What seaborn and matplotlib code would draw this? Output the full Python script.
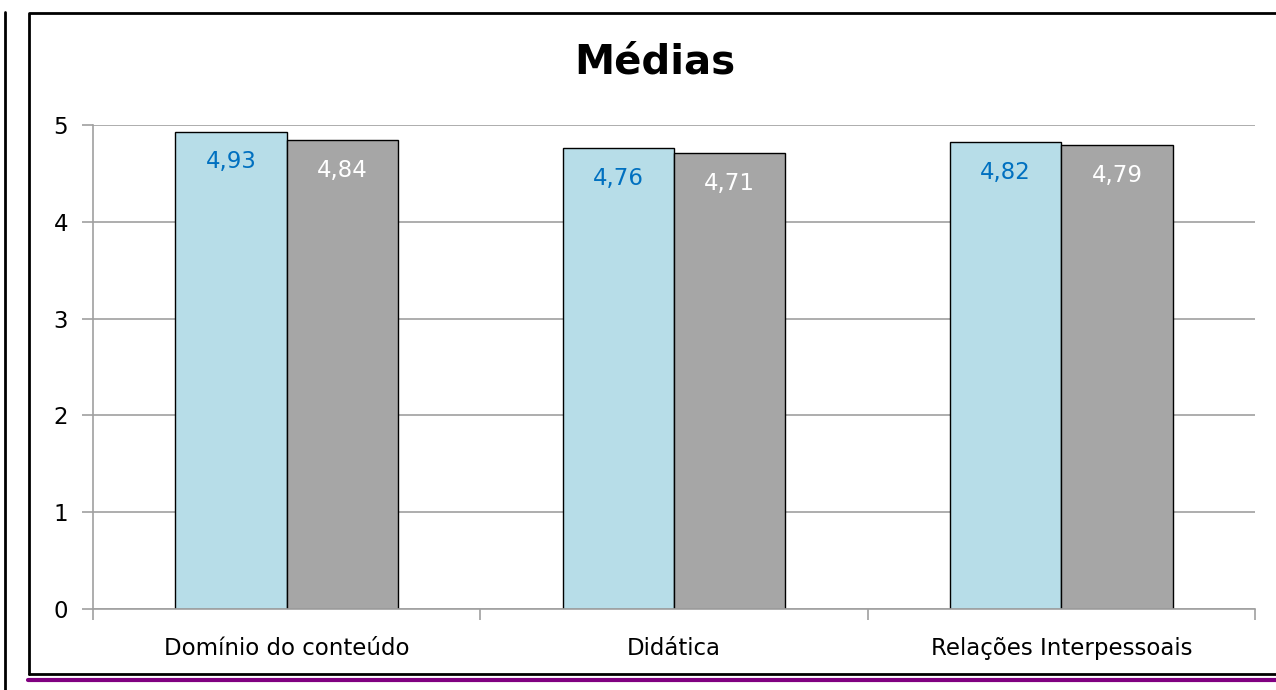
import pandas as pd
import seaborn as sns
import matplotlib.pyplot as plt
from matplotlib.lines import Line2D

categorias = ["Domínio do conteúdo", "Didática", "Relações Interpessoais"]
grupos = ["Série 1", "Série 2"]
medias_1 = [4.93, 4.76, 4.82]
medias_2 = [4.84, 4.71, 4.79]

df = pd.DataFrame({
    "categoria": categorias * 2,
    "grupo": [grupos[0]] * 3 + [grupos[1]] * 3,
    "media": medias_1 + medias_2,
})

sns.set_theme(style="white")
plt.rcParams["font.family"] = ["DejaVu Sans"]

fig = plt.figure(figsize=(12.76, 6.90), dpi=100)
ax = fig.add_axes([93 / 1276, 81 / 690, (1255 - 93) / 1276, (609 - 125) / 690])

sns.barplot(data=df, x="categoria", y="media", hue="grupo",
            palette=["#B7DDE8", "#A6A6A6"], saturation=1, edgecolor="black", linewidth=1,
            width=0.575, legend=False, ax=ax)

# value labels inside the bars
cores_txt = {grupos[0]: "#0070C0", grupos[1]: "white"}
for cont, g in zip(ax.containers, grupos):
    for bar, v in zip(cont, df.loc[df.grupo == g, "media"]):
        ax.annotate(f"{v:.2f}".replace(".", ","),
                    (bar.get_x() + bar.get_width() / 2, bar.get_height()),
                    xytext=(0, -30), textcoords="offset pixels",
                    ha="center", va="center", fontsize=16.5, color=cores_txt[g])

ax.set_ylim(0, 5)
ax.set_xlim(-0.5, 2.5)
ax.set_yticks(range(6))
ax.yaxis.grid(True, color="#A0A0A0", linewidth=1.2)
ax.set_axisbelow(True)
ax.set_xlabel("")
ax.set_ylabel("")
for s in ["top", "right"]:
    ax.spines[s].set_visible(False)
for s in ["left", "bottom"]:
    ax.spines[s].set_color("#A0A0A0")
    ax.spines[s].set_linewidth(1.2)
ax.set_xticks([-0.5, 0.5, 1.5, 2.5], minor=True)
ax.tick_params(axis="x", which="major", length=0, pad=20, labelsize=16.5, labelcolor="black")
ax.tick_params(axis="x", which="minor", length=8, width=1.2, color="#A0A0A0", direction="out", bottom=True)
ax.tick_params(axis="y", length=8, width=1.2, color="#A0A0A0", direction="out", left=True,
               pad=10, labelsize=16.5, labelcolor="black")

fig.text(655 / 1276, 1 - 63 / 690, "Médias", ha="center", va="center",
         fontsize=29, fontweight="bold", color="black")

# outer frames
fig.add_artist(Line2D([5 / 1276, 5 / 1276], [0, 1 - 12 / 690], color="black", linewidth=2))
fig.add_artist(Line2D([29 / 1276, 29 / 1276, 1], [1 - 674 / 690, 1 - 13 / 690, 1 - 13 / 690],
                      color="black", linewidth=2))
fig.add_artist(Line2D([29 / 1276, 1], [1 - 674 / 690, 1 - 674 / 690], color="black", linewidth=2))
fig.add_artist(Line2D([28 / 1276, 1], [1 - 680 / 690, 1 - 680 / 690], color="#800080", linewidth=3))

fig.savefig("out.png", dpi=100)
